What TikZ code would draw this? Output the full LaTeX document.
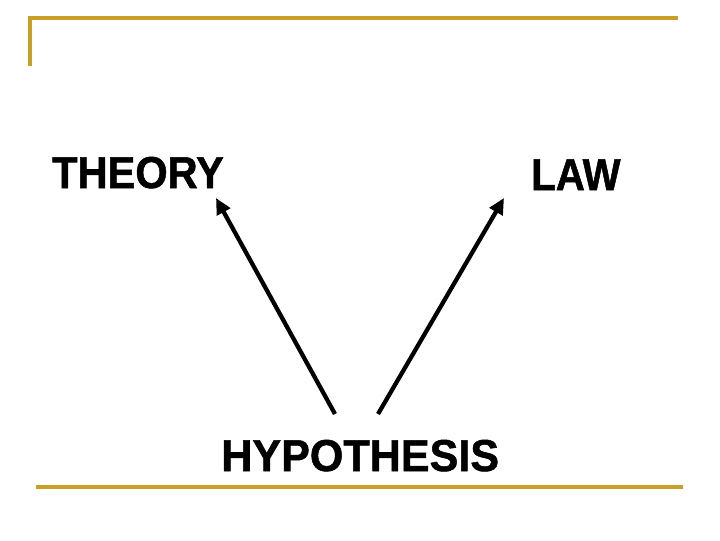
\documentclass[tikz,border=0pt]{standalone}
\usepackage{fontspec}
\setmainfont[BoldFeatures={FakeBold=1.2}]{Liberation Sans}
\usetikzlibrary{arrows.meta}
\definecolor{gold}{RGB}{200,160,40}
\tikzset{
  rule/.style={draw=gold, line width=2.4pt},
  word/.style={font=\fontsize{33.5}{36}\selectfont\bfseries, inner sep=0pt, anchor=base west},
  link/.style={line width=3.2pt, -{Triangle[length=12pt,width=11pt]}}
}
\begin{document}
\begin{tikzpicture}[x=0.75pt,y=-0.75pt]
\useasboundingbox (0,0) rectangle (720,540);
\draw[rule, line join=miter] (30,66) -- (30,18) -- (678,18);
\draw[rule] (36,487) -- (683,487);
\node[word] (theory) at (52,188) {\scalebox{0.93}[1]{THEORY}};
\node[word] (law) at (531,190) {\scalebox{0.9}[1]{LAW}};
\node[word] (hyp) at (221,471) {\scalebox{0.965}[1]{HYPOTHESIS}};
\coordinate (t1) at (335,414);
\coordinate (h1) at (216,198);
\coordinate (t2) at (378,414);
\coordinate (h2) at (504,198);
\draw[link] (t1) -- (h1);
\draw[link] (t2) -- (h2);
\end{tikzpicture}
\end{document}
